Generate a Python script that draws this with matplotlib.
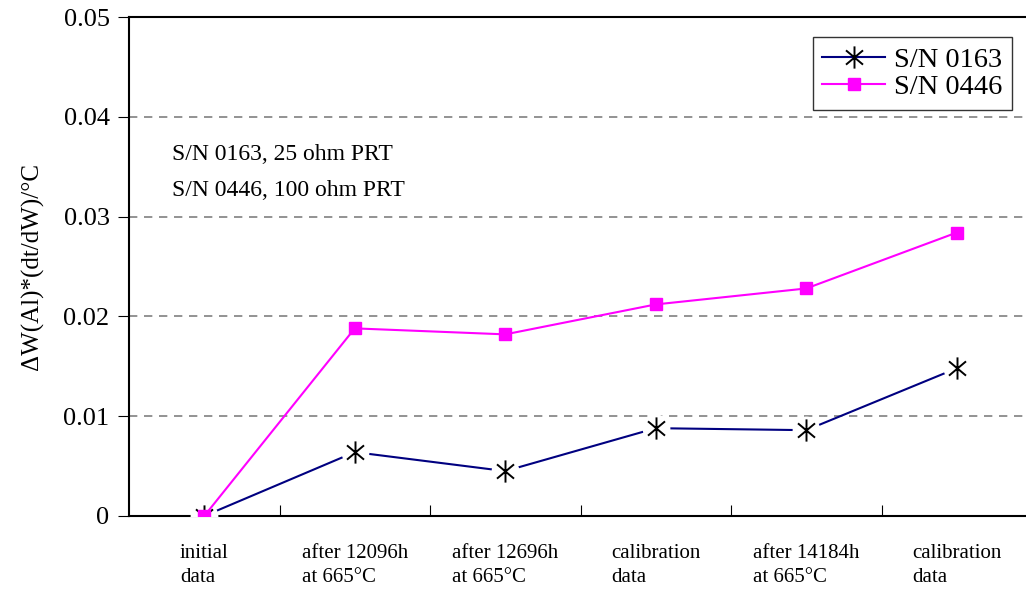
import numpy as np
import matplotlib.pyplot as plt
from matplotlib.path import Path

# data
categories = ["initial\ndata", "after 12096h\nat 665°C", "after 12696h\nat 665°C",
              "calibration\ndata", "after 14184h\nat 665°C", "calibration\ndata"]
sn0163 = [0.0, 0.0064, 0.0045, 0.0088, 0.0086, 0.0148]
sn0446 = [0.0, 0.0188, 0.0182, 0.0212, 0.0228, 0.0284]

plt.rcParams['font.family'] = ['Liberation Serif', 'DejaVu Serif']

W, H = 1026, 594
fig = plt.figure(figsize=(W / 100, H / 100), dpi=100)
ax = fig.add_axes([129 / W, 78 / H, 897 / W, 499 / H])

x = np.arange(len(categories))

# asterisk marker: vertical bar plus an X
c, s = np.cos(np.radians(40)), np.sin(np.radians(40))
star = Path([(0, -1), (0, 1), (-c, -s), (c, s), (-c, s), (c, -s)],
            [Path.MOVETO, Path.LINETO] * 3)

# blue series: line, white halo, then star markers
ax.plot(x, sn0163, color='#000080', lw=1.5, zorder=3)
ax.plot(x, sn0163, ls='none', marker='o', ms=19, mfc='white', mec='white', zorder=4)
ax.plot(x, sn0163, ls='none', marker=star, ms=16, mec='black', mew=1.4, zorder=5)
# proxy for legend
ax.plot([], [], color='#000080', lw=1.5, marker=star, ms=16, mec='black', mew=1.4,
        label='S/N 0163')

ax.plot(x, sn0446, color='#FF00FF', lw=1.5, marker='s', ms=8, mfc='#FF00FF', mec='#FF00FF',
        zorder=6, label='S/N 0446')

ax.set_ylim(0, 0.05)
ax.set_yticks([0, 0.01, 0.02, 0.03, 0.04, 0.05])
ax.set_yticklabels(['0', '0.01', '0.02', '0.03', '0.04', '0.05'], fontsize=19)
ax.set_xlim(-0.5, -0.5 + 897 / 150.5)

# categories sit between the tick marks
ax.set_xticks(np.arange(0.5, len(categories) - 0.5, 1))
ax.set_xticklabels([])
ax.set_xticks(x, minor=True)
ax.set_xticklabels(categories, minor=True, fontsize=15, linespacing=1.4, multialignment='left')
ax.tick_params(axis='x', which='major', direction='in', length=8, width=0.8)
ax.tick_params(axis='x', which='minor', length=0, pad=20)
ax.tick_params(axis='y', direction='out', length=8, width=0.8, pad=6)

for y in [0.01, 0.02, 0.03, 0.04]:
    ax.axhline(y, color='#808080', lw=1.2, ls=(0, (5, 4)), zorder=1)

for sp in ['left', 'top', 'bottom']:
    ax.spines[sp].set_linewidth(1.5)
ax.spines['right'].set_visible(False)

ax.set_ylabel('ΔW(Al)*(dt/dW)/°C', fontsize=18, labelpad=14)

fig.text(172 / W, 1 - 155 / H, 'S/N 0163, 25 ohm PRT', fontsize=17, va='center')
fig.text(172 / W, 1 - 190 / H, 'S/N 0446, 100 ohm PRT', fontsize=17, va='center')

leg = ax.legend(loc='upper right', bbox_to_anchor=(1012 / W, 1 - 37 / H),
                bbox_transform=fig.transFigure, fontsize=20.5, frameon=True, fancybox=False,
                edgecolor='black', handlelength=2.2, borderpad=0.35, labelspacing=0.05,
                handletextpad=0.3, borderaxespad=0)
leg.get_frame().set_linewidth(1.0)

fig.savefig('out.png', dpi=100)
